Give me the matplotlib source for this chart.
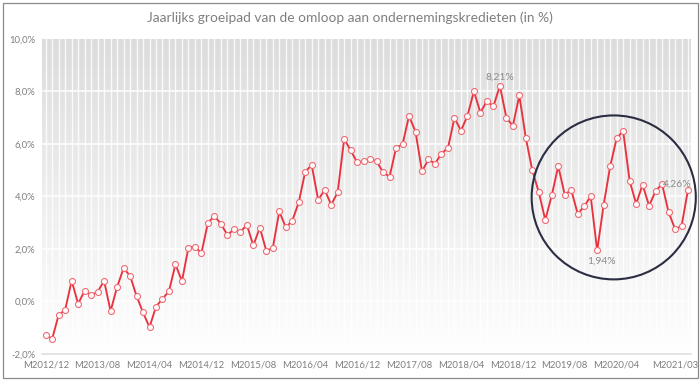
import numpy as np
import matplotlib
matplotlib.use("Agg")
import matplotlib.pyplot as plt
from matplotlib.patches import Ellipse, Rectangle

# ---------------- data ----------------
values = [
    -1.27, -1.42, -0.51, -0.32, 0.79, -0.09, 0.41, 0.24, 0.36, 0.79,
    -0.37, 0.55, 1.26, 0.98, 0.21, -0.42, -0.98, -0.20, 0.10, 0.39,
    1.41, 0.77, 2.05, 2.08, 1.84, 2.99, 3.25, 2.96, 2.53, 2.74,
    2.64, 2.92, 2.13, 2.81, 1.93, 2.03, 3.43, 2.82, 3.07, 3.77,
    4.94, 5.19, 3.86, 4.25, 3.68, 4.15, 6.18, 5.76, 5.29, 5.34,
    5.41, 5.34, 4.91, 4.75, 5.84, 5.98, 7.06, 6.46, 4.95, 5.41,
    5.24, 5.63, 5.84, 6.99, 6.50, 7.06, 8.00, 7.19, 7.63, 7.42,
    8.21, 7.00, 6.68, 7.84, 6.22, 4.99, 4.16, 3.10, 4.04, 5.15,
    4.06, 4.25, 3.33, 3.62, 4.00, 1.94, 3.68, 5.14, 6.21, 6.49,
    4.59, 3.72, 4.44, 3.64, 4.20, 4.47, 3.40, 2.76, 2.86, 4.26,
]
tick_idx = [0, 8, 16, 24, 32, 40, 48, 56, 64, 72, 80, 88, 99]
tick_labels = ["M2012/12", "M2013/08", "M2014/04", "M2014/12", "M2015/08",
               "M2016/04", "M2016/12", "M2017/08", "M2018/04", "M2018/12",
               "M2019/08", "M2020/04", "M2021/03"]
y_ticks = [-2, 0, 2, 4, 6, 8, 10]
y_tick_labels = ["-2,0%", "0,0%", "2,0%", "4,0%", "6,0%", "8,0%", "10,0%"]
annot_idx = [70, 85, 99]
annot_text = ["8,21%", "1,94%", "4,26%"]
annot_offsets = [(0, 6.5), (3, -7.5), (-7.5, 3.5)]   # in points
title = "Jaarlijks groeipad van de omloop aan ondernemingskredieten (in %)"

# ---------------- figure ----------------
plt.rcParams['font.family'] = ['Lato', 'DejaVu Sans']
W, H = 700, 380
fig = plt.figure(figsize=(W / 100, H / 100), dpi=100)
fig.patch.set_facecolor('white')

ax = fig.add_axes([42 / W, 1 - 354 / H, (691 - 42) / W, (354 - 38.7) / H])
x = np.arange(len(values))

# gradient background
grad = np.linspace(0, 1, 256).reshape(-1, 1)
top_c = np.array([0.862, 0.862, 0.862])
bot_c = np.array([1.0, 1.0, 1.0])
img = top_c[None, None, :] * (1 - grad[:, :, None]) + bot_c[None, None, :] * grad[:, :, None]
ax.imshow(img, extent=[-0.57, 99.46, -2, 10], aspect='auto', zorder=0, origin='upper')
ax.set_xlim(-0.57, 99.46)
ax.set_ylim(-2, 10)

# vertical gridlines at each point
for xi in x:
    ax.axvline(xi, color='white', lw=1.0, alpha=0.85, zorder=1)
for yv in y_ticks[1:-1]:
    ax.axhline(yv, color='white', lw=1.1, zorder=1)
ax.axhline(-2, color='#dedede', lw=1.2, zorder=1, clip_on=False)

# line
ax.plot(x, values, color='#e8333f', lw=1.35, zorder=3,
        marker='o', markersize=4.3, markerfacecolor='white',
        markeredgecolor='#f06a72', markeredgewidth=0.8)

# annotations
for i, t, off in zip(annot_idx, annot_text, annot_offsets):
    ax.annotate(t, (x[i], values[i]), xytext=off, textcoords='offset points',
                ha='center', va='center', fontsize=7.5, color='#8c8c8c', zorder=5)

# circle highlight
ax.add_patch(Ellipse((87.55, 3.96), 25.3, 6.24, fill=False,
                     edgecolor='#2b2e42', lw=1.5, zorder=4, clip_on=False))

# axes styling
for s in ax.spines.values():
    s.set_visible(False)
ax.set_yticks(y_ticks)
ax.set_yticklabels(y_tick_labels)
ax.set_xticks(tick_idx[:-1])
ax.set_xticklabels(tick_labels[:-1])
ax.tick_params(axis='both', length=0, labelsize=6.8, colors='#7f7f7f')
ax.tick_params(axis='y', pad=5)
ax.tick_params(axis='x', pad=5)
# last tick label shifted inside the figure
ax.annotate(tick_labels[-1], (tick_idx[-1], 0), xycoords=('data', 'axes fraction'),
            xytext=(-9.4, -5), textcoords='offset points', ha='center', va='top',
            fontsize=6.8, color='#7f7f7f', annotation_clip=False)

fig.text(0.5, 1 - 18 / H, title, ha='center', va='center', fontsize=9.9, color='#7f7f7f')

# figure frame
fig.patches.append(Rectangle((2.5 / W, 2.5 / H), (697.5 - 2.5) / W, (377.5 - 2.5) / H,
                             transform=fig.transFigure, fill=False,
                             edgecolor='#8a8a8a', lw=0.9, zorder=10))

fig.savefig('out.png', dpi=100)
